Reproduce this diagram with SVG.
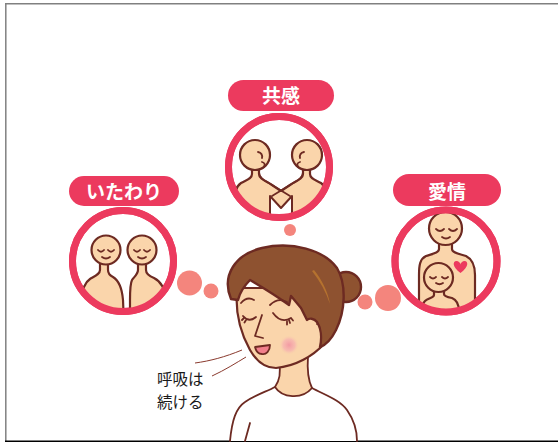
<svg xmlns="http://www.w3.org/2000/svg" width="558" height="443" viewBox="0 0 558 443">
  <style>
    .ring { fill: #fff; stroke: #ec3a5e; stroke-width: 7; }
    .pill { fill: #ec3a5e; }
    .pill-text { font-family: "Noto Sans CJK JP", "Noto Sans", sans-serif; font-weight: 700; font-size: 19px; fill: #fff; text-anchor: middle; }
    .skin { fill: #fad5ab; stroke: #6d2a22; stroke-width: 2.2; stroke-linejoin: round; }
    .ln { fill: none; stroke: #6d2a22; stroke-width: 1.8; stroke-linecap: round; stroke-linejoin: round; }
    .hair { fill: #8e5230; stroke: #6d2a22; stroke-width: 2.4; stroke-linejoin: round; }
    .bubble { fill: #f4857d; }
    .caption { font-family: "Noto Sans CJK JP", "Noto Sans", sans-serif; font-size: 15.5px; fill: #1a1a1a; }
  </style>
  <defs>
    <clipPath id="clipL"><circle cx="123" cy="261" r="50"/></clipPath>
    <clipPath id="clipM"><circle cx="279" cy="167" r="50"/></clipPath>
    <clipPath id="clipR"><circle cx="446" cy="261" r="50"/></clipPath>
    <radialGradient id="blush">
      <stop offset="0" stop-color="#f39aa3"/>
      <stop offset="0.6" stop-color="#f6b0b0" stop-opacity="0.7"/>
      <stop offset="1" stop-color="#fad5ab" stop-opacity="0"/>
    </radialGradient>
  </defs>

  <rect width="558" height="443" fill="#fff"/>

  <!-- page frame -->
  <g id="frame">
    <line x1="5" y1="3.8" x2="558" y2="3.8" stroke="#808080" stroke-width="1.5"/>
    <line x1="5.8" y1="3" x2="5.8" y2="441" stroke="#808080" stroke-width="1.5"/>
    <line x1="5" y1="441.2" x2="558" y2="441.2" stroke="#000" stroke-width="1.4"/>
  </g>

  <!-- thought bubbles linking the person to each feeling -->
  <g id="connectors">
    <circle class="bubble" cx="189.5" cy="283" r="12.5"/>
    <circle class="bubble" cx="211" cy="291" r="7.5"/>
    <circle class="bubble" cx="290" cy="230" r="6"/>
    <circle class="bubble" cx="365" cy="302" r="7.5"/>
    <circle class="bubble" cx="388" cy="298" r="13"/>
  </g>

  <!-- いたわり -->
  <g id="node-itawari">
    <circle class="ring" cx="123" cy="261" r="50.5"/>
    <g clip-path="url(#clipL)">
      <path class="skin" d="M100,262 L100,270 C100,274 95,276 90,279 C84,283 82,290 82,300 L82,325 L124,325 L123,300 C122,288 118,280 113,277 C109,275 108,273 108,270 L108,262 Z"/>
      <circle class="skin" cx="106" cy="250" r="14.5"/>
      <path class="ln" d="M98,250 q3,3.5 6,0 M108,250 q3,3.5 6,0 M102,257 q4,3 8,0"/>
      <path class="skin" d="M138,262 L138,270 C138,274 134,277 132,280 C130,284 130,290 130,300 L130,325 L167,325 L166,300 C165,288 160,281 154,278 C149,276 146,273 146,270 L146,262 Z"/>
      <circle class="skin" cx="142" cy="250" r="14.5"/>
      <path class="ln" d="M134,250 q3,3.5 6,0 M144,250 q3,3.5 6,0 M138,257 q4,3 8,0"/>
    </g>
    <circle cx="123" cy="261" r="50.5" fill="none" stroke="#ec3a5e" stroke-width="7"/>
    <rect class="pill" x="69" y="176" width="110" height="30" rx="15"/>
    <text class="pill-text" x="124" y="199">いたわり</text>
  </g>

  <!-- 共感 -->
  <g id="node-kyokan">
    <circle class="ring" cx="279" cy="167" r="50.5"/>
    <g clip-path="url(#clipM)">
      <path class="skin" d="M252,166 L252,174 C252,179 246,180 241,183 C235,187 234,195 234,205 L234,228 L328,228 L328,205 C328,195 327,187 321,183 C316,180 310,179 310,174 L310,166 L303,166 L303,174 C303,179 296,181 290,185 L281,191 L272,185 C266,181 259,179 259,174 L259,166 Z"/>
      <path class="ln" d="M259,172 C259,179 266,181 272,185 L290,196 M303,172 C303,179 296,181 290,185 L272,196"/>
      <path d="M270,230 L270,196 L281,208 L292,196 L292,230 Z" fill="#fff" stroke="#6d2a22" stroke-width="2" stroke-linejoin="round"/>
      <circle class="skin" cx="255" cy="155" r="15"/>
      <path class="ln" d="M258,152 q5,1 4,6 M262,162 q4,1 2,5"/>
      <circle class="skin" cx="307" cy="155" r="15"/>
      <path class="ln" d="M304,152 q-5,1 -4,6 M300,162 q-4,1 -2,5"/>
    </g>
    <circle cx="279" cy="167" r="50.5" fill="none" stroke="#ec3a5e" stroke-width="7"/>
    <rect class="pill" x="228" y="80" width="106" height="31" rx="15.5"/>
    <text class="pill-text" x="281" y="103">共感</text>
  </g>

  <!-- 愛情 -->
  <g id="node-aijo">
    <circle class="ring" cx="446" cy="261" r="51"/>
    <g clip-path="url(#clipR)">
      <path class="skin" d="M439,242 L439,249 C439,253 432,254 426,256 C420,259 419,265 419,275 L419,325 L475,325 L475,275 C475,265 472,259 466,256 C460,254 452,253 452,249 L452,242 Z"/>
      <circle class="skin" cx="445.5" cy="228.5" r="16.5"/>
      <path class="ln" d="M436,229 q4,4 8,0 M449,229 q4,4 8,0 M442,237 q4,3 8,0"/>
      <path d="M460.5,273 C452,267 452.5,261 456.5,261 C458.5,261 460.5,263 460.5,264.5 C460.5,263 462.5,261 464.5,261 C468.5,261 469,267 460.5,273 Z" fill="#ec3a5e"/>
      <path class="skin" d="M434,289 L434,295 C434,298 428,298 425,301 C422,304 422,308 422,312 L422,325 L459,325 L459,312 C459,306 457,300 452,298 C446,297 444,296 444,294 L444,289 Z"/>
      <circle class="skin" cx="438.5" cy="277.5" r="14.5"/>
      <path class="ln" d="M430,277 q3,3 6,0 M442,277 q3,3 6,0 M436,283 q3.5,2.5 7,0"/>
    </g>
    <circle cx="446" cy="261" r="51" fill="none" stroke="#ec3a5e" stroke-width="7"/>
    <rect class="pill" x="393" y="174" width="108" height="32" rx="16"/>
    <text class="pill-text" x="447" y="199">愛情</text>
  </g>

  <!-- the person breathing -->
  <g id="node-woman">
    <!-- shirt -->
    <path d="M230,441 C232,420 236,408 245,402 C255,395 268,391 275,387 C282,398 302,400 312,388 C325,395 340,400 347,410 C354,420 357,430 357,441 Z" fill="#fff"/>
    <path class="ln" stroke-width="2.4" d="M230,441 C232,420 236,408 245,402 C255,395 268,391 275,387 M312,388 C325,395 340,400 347,410 C354,420 357,430 357,441 M250,423 L245,441"/>
    <!-- neck -->
    <path d="M279,360 C281,372 280,380 275,387 C282,398 302,400 312,388 C308,380 307,370 308,356 Z" fill="#fad5ab"/>
    <path class="ln" stroke-width="2.4" d="M279,362 C281,372 280,380 275,387 C282,398 302,400 312,388 C308,380 307,370 308,356"/>
    <!-- bun -->
    <circle class="hair" cx="346" cy="287" r="15"/>
    <!-- face -->
    <path class="skin" stroke-width="2.4" d="M237,288 C235,310 240,332 250,350 C257,362 266,368 276,368 C296,366 313,356 324,344 L332,322 L320,288 Z"/>
    <!-- ear -->
    <path class="ln" stroke-width="2" d="M317,324 C322,322 327,327 326,334"/>
    <!-- hair -->
    <path class="hair" d="M231,299 C221,275 236,254 262,248 C292,241 324,250 337,268 C347,285 345,312 336,330 C331,340 326,345 320,347 C322,338 321,328 317,322 C314,318 309,318 307,320 L301,308 L291,296 L289,305 C275,295 262,287 250,280 C245,285 240,292 238,300 Z"/>
    <path d="M314,270 C322,280 328,292 330,304 C326,292 320,281 312,271 Z" fill="#b5722f"/>
    <!-- brows, eyes, nose -->
    <path class="ln" d="M241,303 Q247,296 254,300 M270,305 Q278,297 287,302"/>
    <path class="ln" d="M243,316 Q249,323 256,317 M244,318 l-2,2 M246,320 l-1.5,2.5"/>
    <path class="ln" d="M273,313 Q281,324 291,318 M289,320 l1,3 M291,318 l2,2.5 M287,321.5 l0,3"/>
    <path class="ln" d="M262,315 L255,336 L263,338"/>
    <!-- cheek and mouth -->
    <circle cx="289" cy="345" r="10" fill="url(#blush)"/>
    <path d="M255,347 L270,345 C270,351 266,355 262,354 C258,354 256,351 255,347 Z" fill="#f17f8b" stroke="#6d2a22" stroke-width="1.8" stroke-linejoin="round"/>
    <!-- breath -->
    <path d="M195,363 C210,361 225,357 242,350 M212,376 C225,370 236,363 246,357" fill="none" stroke="#8a3a2e" stroke-width="1"/>
  </g>

  <g id="caption">
    <text class="caption" x="157" y="385">呼吸は</text>
    <text class="caption" x="157" y="408">続ける</text>
  </g>
</svg>
